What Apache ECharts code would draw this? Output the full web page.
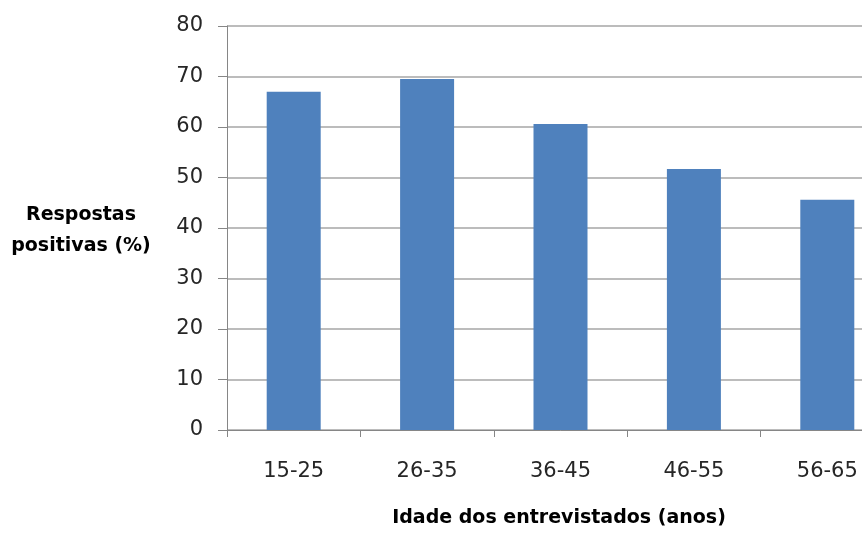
<!DOCTYPE html>
<html>
<head>
<meta charset="utf-8">
<script src="https://cdn.jsdelivr.net/npm/echarts@6/dist/echarts.min.js"></script>
<style>
  html, body { margin: 0; padding: 0; background: #fff; overflow: hidden; width: 862px; height: 535px; }
  /* the plot area runs past the right edge of the visible frame */
  #chart { width: 900px; height: 535px; }
</style>
</head>
<body>
<div id="chart"></div>
<script>
// Faixas etárias e percentual de respostas positivas
const categories = ['15-25', '26-35', '36-45', '46-55', '56-65'];
const positiveShare = [67.0, 69.5, 60.6, 51.7, 45.6];
const yTicks = [0, 10, 20, 30, 40, 50, 60, 70, 80];

const chart = echarts.init(document.getElementById('chart'), null, { renderer: 'canvas' });

const labelFont = 'DejaVu Sans';
const titleFont = 'DejaVu Sans';

chart.setOption({
  animation: false,
  backgroundColor: '#ffffff',
  grid: { left: 227, top: 26, bottom: 105, right: 6, containLabel: false },
  xAxis: {
    type: 'category',
    data: categories,
    axisLine: { lineStyle: { color: '#868686', width: 1 } },
    axisTick: { show: true, length: 7, alignWithLabel: false, lineStyle: { color: '#868686' } },
    axisLabel: { color: '#262626', fontFamily: labelFont, fontSize: 21, margin: 31 },
    splitLine: { show: false }
  },
  yAxis: {
    type: 'value',
    min: yTicks[0],
    max: yTicks[yTicks.length - 1],
    interval: 10,
    axisLine: { show: true, lineStyle: { color: '#868686', width: 1 } },
    axisTick: { show: true, length: 9, inside: false, lineStyle: { color: '#868686' } },
    axisLabel: { color: '#262626', fontFamily: labelFont, fontSize: 21, margin: 24 },
    splitLine: { show: true, lineStyle: { color: '#a6a6a6', width: 1.5 } }
  },
  series: [{
    type: 'bar',
    data: positiveShare,
    barWidth: 54,
    itemStyle: { color: '#4f81bd' }
  }],
  graphic: [
    {
      type: 'text',
      x: 81,
      y: 200,
      style: {
        text: 'Respostas\npositivas (%)',
        font: 'bold 19px ' + titleFont,
        fill: '#000000',
        textAlign: 'center',
        lineHeight: 31
      }
    },
    {
      type: 'text',
      x: 559,
      y: 509,
      style: {
        text: 'Idade dos entrevistados (anos)',
        font: 'bold 19px ' + titleFont,
        fill: '#000000',
        textAlign: 'center'
      }
    }
  ]
});
</script>
</body>
</html>
